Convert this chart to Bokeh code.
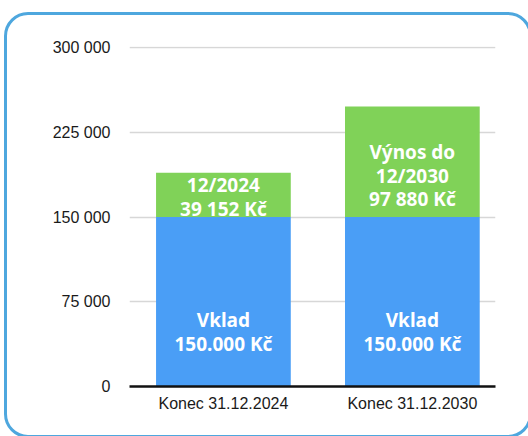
from bokeh.plotting import figure
from bokeh.models import ColumnDataSource, Range1d, FixedTicker, InlineStyleSheet
from bokeh.core.properties import value
from bokeh.embed import file_html
from bokeh.resources import INLINE

# ---- data ----
categories = ["Konec 31.12.2024", "Konec 31.12.2030"]
vklad = [150000, 150000]
vynos = [39152, 97880]
vklad_labels = ["Vklad\n150.000 Kč", "Vklad\n150.000 Kč"]
vynos_labels = ["12/2024\n39 152 Kč", "Výnos do\n12/2030\n97 880 Kč"]
y_ticks = [0, 75000, 150000, 225000, 300000]
y_tick_labels = ["0", "75 000", "150 000", "225 000", "300 000"]

BLUE = "#4a9ef6"
GREEN = "#80d258"
BORDER = "#4ea7de"

xs = list(range(len(categories)))
src = ColumnDataSource(dict(
    x=xs, vklad=vklad, vynos=vynos,
    vklad_mid=[v / 2 for v in vklad],
    vynos_mid=[a + b / 2 for a, b in zip(vklad, vynos)],
    vklad_labels=vklad_labels, vynos_labels=vynos_labels,
    vynos_off=[2, 14],
))

p = figure(width=528, height=436, output_backend="svg", toolbar_location=None,
           x_range=Range1d(-0.497, 1.44), y_range=Range1d(0, 301000),
           min_border_left=129, min_border_right=33, min_border_top=46,
           min_border_bottom=50)
p.outline_line_color = None
p.background_fill_color = "white"
p.border_fill_color = "white"

p.vbar_stack(["vklad", "vynos"], x="x", width=0.713, source=src,
             color=[BLUE, GREEN], line_color=None)

common = dict(text_color="white", text_font=value("Noto Sans"),
              text_font_style="bold", text_font_size="19px",
              text_align="center", text_baseline="middle", text_line_height=0.91)
p.text(x="x", y="vklad_mid", text="vklad_labels", source=src, y_offset=30, **common)
p.text(x="x", y="vynos_mid", text="vynos_labels", source=src, y_offset="vynos_off", **common)

# axes
p.xgrid.grid_line_color = None
p.ygrid.grid_line_color = "#d7d7d7"
p.ygrid.grid_line_width = 1.5
p.ygrid.ticker = FixedTicker(ticks=y_ticks)

p.yaxis.ticker = FixedTicker(ticks=y_ticks)
p.yaxis.major_label_overrides = {t: l for t, l in zip(y_ticks, y_tick_labels)}
p.yaxis.axis_line_color = None
p.yaxis.major_tick_line_color = None
p.yaxis.minor_tick_line_color = None
p.yaxis.major_tick_out = 0
p.yaxis.minor_tick_out = 0
p.yaxis.major_label_standoff = 19
p.yaxis.major_label_text_font = "Liberation Sans"
p.yaxis.major_label_text_font_size = "16px"
p.yaxis.major_label_text_color = "#1a1a1a"

p.xaxis.ticker = FixedTicker(ticks=xs)
p.xaxis.major_label_overrides = {x: c for x, c in zip(xs, categories)}
p.xaxis.axis_line_color = "#111111"
p.xaxis.axis_line_width = 2.5
p.xaxis.major_tick_line_color = None
p.xaxis.minor_tick_line_color = None
p.xaxis.major_tick_out = 0
p.xaxis.minor_tick_out = 0
p.xaxis.major_label_standoff = 8
p.xaxis.major_label_text_font = "Liberation Sans"
p.xaxis.major_label_text_font_size = "16px"
p.xaxis.major_label_text_color = "#1a1a1a"

# rounded outer frame (drawn with CSS on the figure element)
p.stylesheets = [InlineStyleSheet(css=f"""
:host {{ overflow: hidden; position: relative; }}
:host::after {{
  content: ""; position: absolute; left: 3.5px; top: 11.5px;
  width: 528px; height: 426.5px; box-sizing: border-box;
  border: 3px solid {BORDER}; border-radius: 24px;
  pointer-events: none; z-index: 100;
}}
""")]

open("out.html", "w").write(file_html(p, INLINE))
